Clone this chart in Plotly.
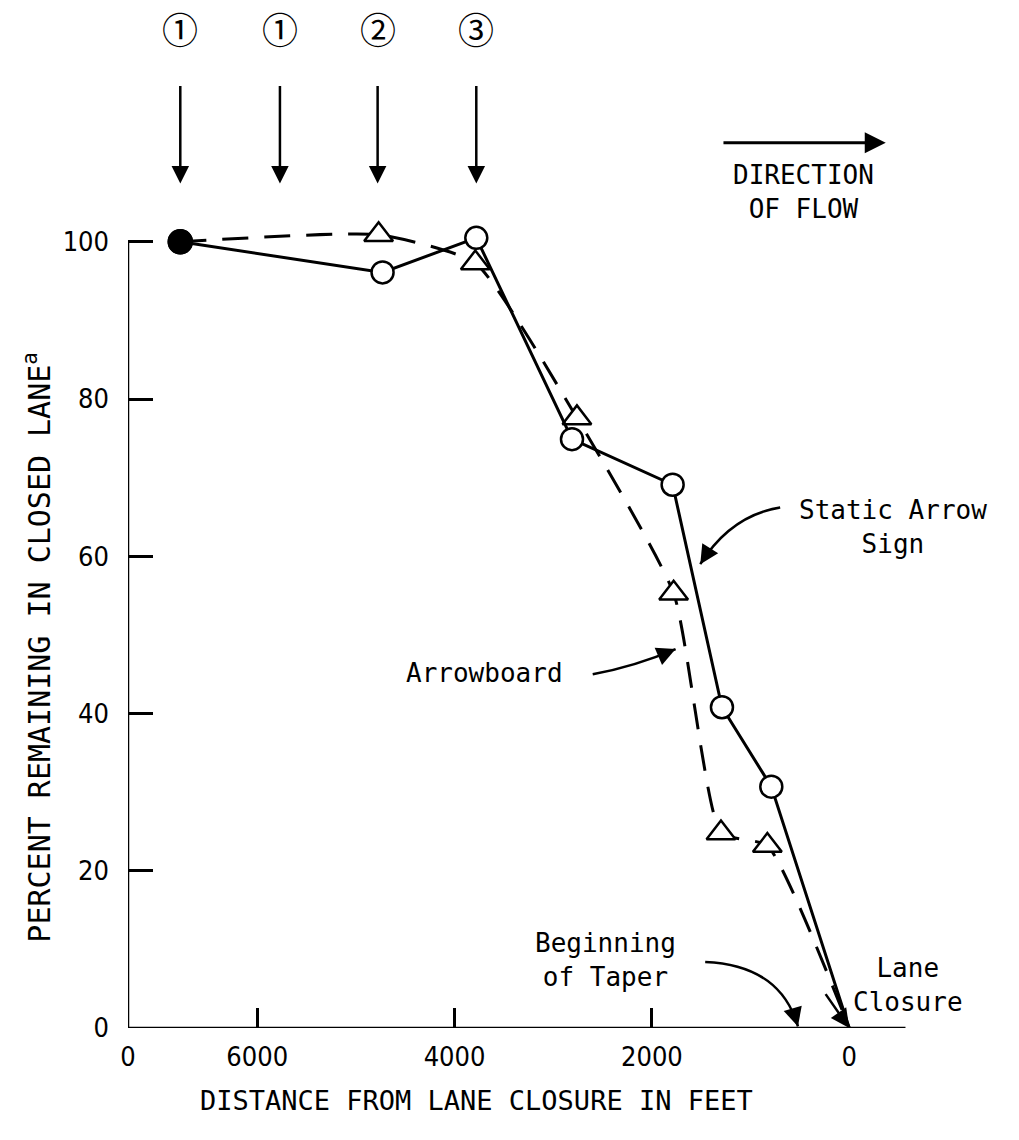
import plotly.graph_objects as go

# Distance from lane closure (ft) and percent of traffic still in the closed lane
static_x = [6780, 4730, 3780, 2810, 1790, 1290, 790, 0]
static_y = [100, 96.1, 100.5, 74.9, 69.1, 40.8, 30.7, 0]

arrowboard_x = [6780, 4770, 3790, 2760, 1780, 1300, 830, 0]
arrowboard_y = [100, 100.9, 97.3, 77.6, 55.3, 24.8, 23.2, 0]

# Sign locations marked above the chart
sign_x = [6780, 5770, 4780, 3780]
sign_labels = ["\u2460", "\u2460", "\u2461", "\u2462"]

x_tickvals = [7310, 6000, 4000, 2000, 0]
x_ticktext = ["0", "6000", "4000", "2000", "0"]
y_tickvals = [0, 20, 40, 60, 80, 100]
y_ticktext = ["0", "20", "40", "60", "80", "100"]

# Drawn extent of the axes (the plotting area is larger to hold the labels above)
X_LEFT, X_RIGHT = 7310, -570
Y_TOP = 100

MONO = "DejaVu Sans Mono"
TICKFONT = "DejaVu Sans Condensed, Liberation Sans Narrow, DejaVu Sans Mono"
CIRCLED = "Noto Sans CJK JP, DejaVu Sans"
INK = "#000000"

fig = go.Figure()

n_ab = len(arrowboard_x)
fig.add_trace(go.Scatter(
    x=arrowboard_x, y=arrowboard_y, mode="lines+markers", name="Arrowboard",
    line=dict(color=INK, width=3, dash="26px,16px", shape="spline", smoothing=0.5),
    marker=dict(
        symbol=["circle"] + ["triangle-up"] * (n_ab - 2) + ["circle"],
        size=[23] + [25] * (n_ab - 2) + [0],
        color=[INK] + ["white"] * (n_ab - 1),
        opacity=1,
        line=dict(color=INK, width=2.5),
    ),
    cliponaxis=False, showlegend=False,
))

n_sa = len(static_x)
fig.add_trace(go.Scatter(
    x=static_x, y=static_y, mode="lines+markers", name="Static Arrow Sign",
    line=dict(color=INK, width=3),
    marker=dict(
        symbol="circle",
        size=[23] + [22] * (n_sa - 2) + [0],
        color=[INK] + ["white"] * (n_sa - 1),
        opacity=1,
        line=dict(color=INK, width=2.5),
    ),
    cliponaxis=False, showlegend=False,
))

annotations = []
shapes = []

# Axis lines
shapes.append(dict(type="line", xref="x", yref="y", x0=X_LEFT, x1=X_RIGHT, y0=0, y1=0,
                   line=dict(color=INK, width=2.5)))
shapes.append(dict(type="line", xref="x", yref="y", x0=X_LEFT, x1=X_LEFT, y0=0, y1=Y_TOP,
                   line=dict(color=INK, width=2.5)))

# Circled sign numbers with downward arrows
for sx, lab in zip(sign_x, sign_labels):
    annotations.append(dict(x=sx, y=127.2, xref="x", yref="y", text=lab,
                            showarrow=False,
                            font=dict(family=CIRCLED, size=36, color=INK)))
    annotations.append(dict(x=sx, y=107.4, xref="x", yref="y", ax=sx, ay=120.0,
                            axref="x", ayref="y", showarrow=True, arrowhead=2,
                            arrowsize=1.4, arrowwidth=2.5, arrowcolor=INK, text=""))

# Direction of flow
annotations.append(dict(x=-370, y=112.6, xref="x", yref="y", ax=1290, ay=112.6,
                        axref="x", ayref="y", showarrow=True, arrowhead=2,
                        arrowsize=1.4, arrowwidth=3, arrowcolor=INK, text=""))
annotations.append(dict(x=466, y=106.3, xref="x", yref="y", text="DIRECTION<br>OF FLOW",
                        showarrow=False, font=dict(family=MONO, size=26, color=INK)))


def curved_arrow(tail, ctrl, tip):
    shapes.append(dict(type="path", xref="x", yref="y",
                       path=f"M {tail[0]},{tail[1]} Q {ctrl[0]},{ctrl[1]} {tip[0]},{tip[1]}",
                       line=dict(color=INK, width=2.5)))
    bx = tip[0] + 0.25 * (ctrl[0] - tip[0])
    by = tip[1] + 0.25 * (ctrl[1] - tip[1])
    annotations.append(dict(x=tip[0], y=tip[1], xref="x", yref="y", ax=bx, ay=by,
                            axref="x", ayref="y", showarrow=True, arrowhead=2,
                            arrowsize=1.5, arrowwidth=2.5, arrowcolor=INK, text=""))


# Static Arrow Sign label
annotations.append(dict(x=-440, y=63.7, xref="x", yref="y", text="Static Arrow<br>Sign",
                        showarrow=False, font=dict(family=MONO, size=26, color=INK)))
curved_arrow((700, 66.2), (1200, 65.2), (1510, 59.0))

# Arrowboard label
annotations.append(dict(x=3700, y=45.2, xref="x", yref="y", text="Arrowboard",
                        showarrow=False, font=dict(family=MONO, size=26, color=INK)))
curved_arrow((2600, 45.0), (2170, 46.0), (1760, 48.2))

# Beginning of Taper label
annotations.append(dict(x=2470, y=8.7, xref="x", yref="y", text="Beginning<br>of Taper",
                        showarrow=False, font=dict(family=MONO, size=26, color=INK)))
curved_arrow((1460, 8.4), (700, 8.0), (520, 0.2))

# Lane Closure label
annotations.append(dict(x=-600, y=5.5, xref="x", yref="y", text="Lane<br>Closure",
                        showarrow=False, font=dict(family=MONO, size=26, color=INK)))
annotations.append(dict(x=0, y=0, xref="x", yref="y", ax=250, ay=4.5,
                        axref="x", ayref="y", showarrow=True, arrowhead=2,
                        arrowsize=1.5, arrowwidth=2.5, arrowcolor=INK, text=""))

# Axis titles
annotations.append(dict(x=3780, y=-0.0705, xref="x", yref="paper", yanchor="middle",
                        text="DISTANCE FROM LANE CLOSURE IN FEET",
                        showarrow=False, font=dict(family=MONO, size=27, color=INK)))
annotations.append(dict(x=-0.1015, y=48.5, xref="paper", yref="y", xanchor="center",
                        text="PERCENT REMAINING IN CLOSED LANE<sup>a</sup>", textangle=-90,
                        showarrow=False, font=dict(family=MONO, size=30, color=INK)))

fig.update_layout(
    width=1019, height=1140,
    margin=dict(l=128, r=4, t=2, b=112),
    paper_bgcolor="white", plot_bgcolor="white",
    annotations=annotations, shapes=shapes,
    xaxis=dict(
        range=[X_LEFT, -1680], tickmode="array", tickvals=x_tickvals, ticktext=x_ticktext,
        showgrid=False, zeroline=False, showline=False,
        ticks="", ticklabelstandoff=10,
        tickfont=dict(family=TICKFONT, size=27, color=INK),
        minor=dict(tickmode="array", tickvals=[6000, 4000, 2000], ticks="inside",
                   ticklen=20, tickwidth=2.5, tickcolor=INK, showgrid=False),
    ),
    yaxis=dict(
        range=[0, 130.5], tickmode="array", tickvals=y_tickvals, ticktext=y_ticktext,
        showgrid=False, zeroline=False, showline=False,
        ticks="", ticklabelstandoff=18,
        tickfont=dict(family=TICKFONT, size=27, color=INK),
        minor=dict(tickmode="array", tickvals=[20, 40, 60, 80, 100], ticks="inside",
                   ticklen=25, tickwidth=2.5, tickcolor=INK, showgrid=False),
    ),
)

fig.write_html("out.html")
